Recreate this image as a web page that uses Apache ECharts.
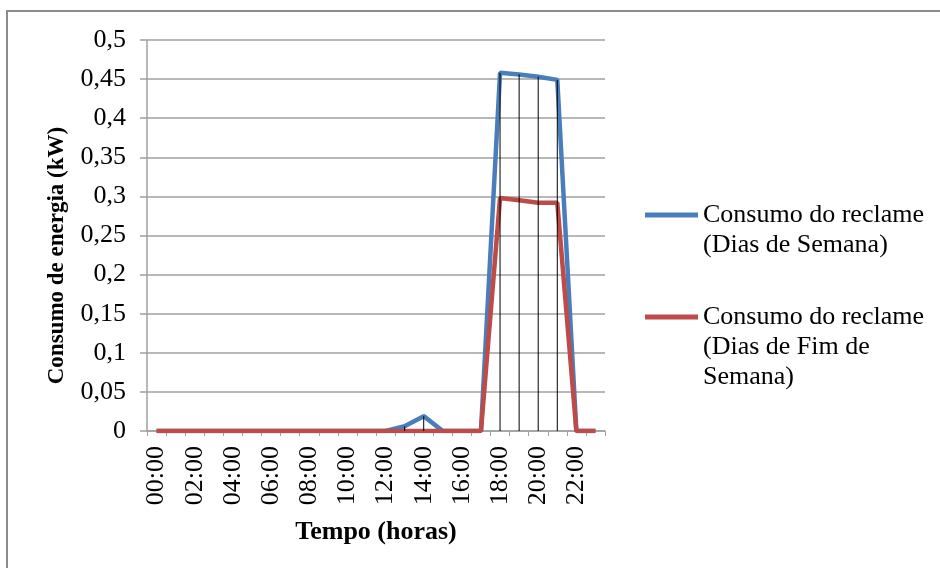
<!DOCTYPE html>
<html>
<head>
<meta charset="utf-8">
<script src="https://cdn.jsdelivr.net/npm/echarts@6/dist/echarts.min.js"></script>
<style>
  html, body { margin: 0; padding: 0; background: #fff; }
  #chart { width: 940px; height: 568px; }
</style>
</head>
<body>
<div id="chart"></div>
<script>
// horas do dia
var horas = ['00:00','01:00','02:00','03:00','04:00','05:00','06:00','07:00','08:00','09:00','10:00','11:00',
             '12:00','13:00','14:00','15:00','16:00','17:00','18:00','19:00','20:00','21:00','22:00','23:00'];
// consumo (kW)
var diasSemana = [0,0,0,0,0,0,0,0,0,0,0,0, 0,0.006,0.019,0,0,0,0.458,0.456,0.453,0.449,0,0];
var fimSemana  = [0,0,0,0,0,0,0,0,0,0,0,0, 0,0,0,0,0,0,0.298,0.295,0.292,0.292,0,0];

var nomeSemana = 'Consumo do reclame\n(Dias de Semana)';
var nomeFim = 'Consumo do reclame\n(Dias de Fim de\nSemana)';

var fonte = 'Liberation Serif, Times New Roman, serif';

// icone da legenda: traco na altura da primeira linha do texto
function iconeLegenda(h) {
  return 'path://M0,12.5H53V17.5H0Z M0,0H0.05V0.05H0Z M52.95,' + (h - 0.05) + 'H53V' + h + 'H52.95Z';
}

var chartDom = document.getElementById('chart');
var myChart = echarts.init(chartDom);
var option;

var textoLegenda = { fontFamily: fonte, fontSize: 26, lineHeight: 30, color: '#000' };

option = {
  animation: false,
  textStyle: { fontFamily: fonte },
  graphic: [{
    type: 'polyline',
    shape: { points: [[7, 600], [7, 11], [960, 11]] },
    style: { stroke: '#8c8c8c', lineWidth: 2, fill: null },
    silent: true
  }],
  grid: { left: 147, right: 335, top: 40, bottom: 137 },
  legend: [
    {
      left: 645, top: 200, padding: 0,
      itemWidth: 53, itemHeight: 60,
      icon: iconeLegenda(60),
      itemStyle: { borderWidth: 0 },
      textStyle: textoLegenda,
      data: [nomeSemana]
    },
    {
      left: 645, top: 302, padding: 0,
      itemWidth: 53, itemHeight: 90,
      icon: iconeLegenda(90),
      itemStyle: { borderWidth: 0 },
      textStyle: textoLegenda,
      data: [nomeFim]
    }
  ],
  xAxis: {
    type: 'category',
    data: horas,
    boundaryGap: true,
    name: 'Tempo (horas)',
    nameLocation: 'middle',
    nameGap: 88,
    nameTextStyle: { fontFamily: fonte, fontSize: 26, fontWeight: 'bold', color: '#000' },
    axisLine: { lineStyle: { color: '#a0a0a0', width: 1.5 } },
    axisTick: { show: true, interval: 0, length: 5, lineStyle: { color: '#a0a0a0' } },
    axisLabel: { interval: 1, rotate: 90, margin: 15, fontFamily: fonte, fontSize: 26, color: '#000' }
  },
  yAxis: {
    type: 'value',
    min: 0, max: 0.5, interval: 0.05,
    name: 'Consumo de energia (kW)',
    nameLocation: 'middle',
    nameGap: 78,
    nameTextStyle: { fontFamily: fonte, fontSize: 23, fontWeight: 'bold', color: '#000', padding: [0, 40, 0, 0] },
    axisLine: { show: true, lineStyle: { color: '#a0a0a0', width: 1.5 } },
    axisTick: { show: true, length: 7, lineStyle: { color: '#a0a0a0', width: 1.5 } },
    splitLine: { lineStyle: { color: '#a0a0a0', width: 1.5 } },
    axisLabel: {
      margin: 21, fontFamily: fonte, fontSize: 26, color: '#000',
      formatter: function (v) { return String(+v.toFixed(2)).replace('.', ','); }
    }
  },
  series: [
    {
      name: nomeSemana,
      type: 'line',
      data: diasSemana,
      symbol: 'none',
      lineStyle: { color: '#4a7ebb', width: 4.5 },
      itemStyle: { color: '#4a7ebb' }
    },
    {
      name: nomeFim,
      type: 'line',
      data: fimSemana,
      symbol: 'none',
      lineStyle: { color: '#be4b48', width: 4.5 },
      itemStyle: { color: '#be4b48' }
    },
    {
      // linhas de projecao
      name: 'projecao',
      type: 'bar',
      data: diasSemana,
      barWidth: 1,
      silent: true,
      z: 5,
      itemStyle: { color: '#000' }
    }
  ]
};

option && myChart.setOption(option);
</script>
</body>
</html>
